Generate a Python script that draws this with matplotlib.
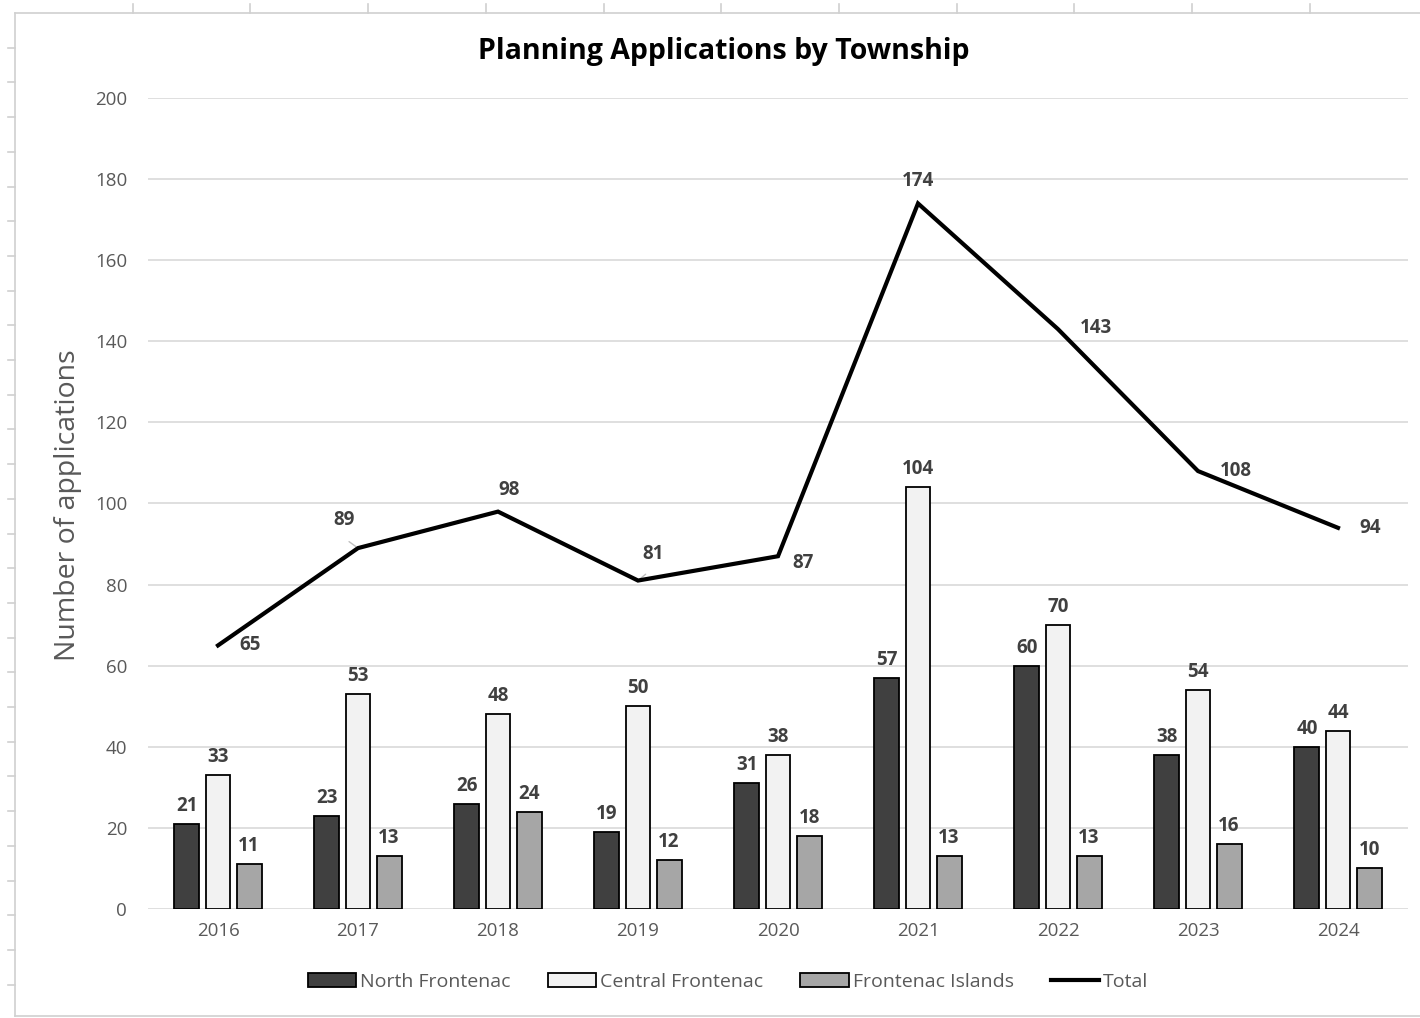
import matplotlib
matplotlib.use("Agg")
import matplotlib.pyplot as plt
import numpy as np
from matplotlib.patches import Patch
from matplotlib.lines import Line2D

years = ["2016", "2017", "2018", "2019", "2020", "2021", "2022", "2023", "2024"]
north = [21, 23, 26, 19, 31, 57, 60, 38, 40]
central = [33, 53, 48, 50, 38, 104, 70, 54, 44]
islands = [11, 13, 24, 12, 18, 13, 13, 16, 10]
total = [65, 89, 98, 81, 87, 174, 143, 108, 94]
series_names = ["North Frontenac", "Central Frontenac", "Frontenac Islands", "Total"]

# label offsets for total line (pixels)
total_offsets = [(32, 0), (-14, 28), (11, 22), (15, 27), (25, -7), (0, 22), (38, 1), (38, 0), (32, 0)]

W, H = 1420, 1018
fig = plt.figure(figsize=(W / 100, H / 100), dpi=100)
fig.patch.set_facecolor("white")

FONT = ["Open Sans", "DejaVu Sans"]
LBL = "#404040"
TICK = "#595959"

ax = fig.add_axes([148 / W, 1 - 909 / H, 1260 / W, 811 / H])
x = np.arange(len(years))
bw = 0.178
off = 0.222
colors = ["#404040", "#f2f2f2", "#a6a6a6"]
for i, (vals, c) in enumerate(zip([north, central, islands], colors)):
    bars = ax.bar(x + (i - 1) * off, vals, width=bw, color=c, edgecolor="black",
                  linewidth=1.3, zorder=3)
    for b, v in zip(bars, vals):
        ax.annotate(str(v), (b.get_x() + b.get_width() / 2, v), xytext=(0, 8),
                    textcoords="offset pixels", ha="center", va="bottom",
                    fontsize=13.5, fontweight="bold", color=LBL, family=FONT, zorder=5)

ax.plot(x, total, color="black", linewidth=3, zorder=4, solid_joinstyle="miter")
for xi, v, (dx, dy) in zip(x, total, total_offsets):
    ax.annotate(str(v), (xi, v), xytext=(dx, dy), textcoords="offset pixels",
                ha="center", va="center", fontsize=13.5, fontweight="bold",
                color=LBL, family=FONT, zorder=5)
# small leader lines
for idx in (1, 3):
    ax.annotate("", (x[idx], total[idx]), xytext=(x[idx] - 0.08 if idx == 1 else x[idx] + 0.07, total[idx] + 2),
                arrowprops=dict(arrowstyle="-", color="#bfbfbf", lw=1), zorder=3)

ax.set_xlim(-0.5, len(years) - 0.5)
ax.set_ylim(0, 200)
ax.set_yticks(np.arange(0, 201, 20))
ax.set_xticks(x)
ax.set_xticklabels(years)
ax.grid(axis="y", color="#d9d9d9", linewidth=1.2, zorder=0)
ax.set_axisbelow(True)
for s in ax.spines.values():
    s.set_visible(False)
ax.tick_params(axis="both", length=0, labelsize=13.5, colors=TICK)
ax.tick_params(axis="y", pad=15)
ax.tick_params(axis="x", pad=9)
for t in ax.get_xticklabels() + ax.get_yticklabels():
    t.set_family(FONT)

fig.text(68 / W, 1 - 505 / H, "Number of applications", rotation=90, ha="center", va="center",
         fontsize=20.5, color=TICK, family=FONT)
fig.text(724 / W, 1 - 52 / H, "Planning Applications by Township", ha="center", va="center",
         fontsize=20.5, fontweight="bold", color="black", family=FONT)

handles = [Patch(facecolor=c, edgecolor="black", linewidth=1.3) for c in colors]
handles.append(Line2D([0], [0], color="black", linewidth=3))
leg = fig.legend(handles, series_names, loc="center", bbox_to_anchor=(728 / W, 1 - 982 / H), ncol=4,
                 frameon=False, prop={"family": FONT, "size": 14},
                 handlelength=2.5, handleheight=0.75, handletextpad=0.2, columnspacing=1.9,
                 labelcolor=TICK)

# outer frame with ruler ticks
frame_c = "#d0d0d0"
fig.add_artist(Line2D([15 / W, 1], [1 - 13 / H, 1 - 13 / H], color=frame_c, lw=1.2, transform=fig.transFigure))
fig.add_artist(Line2D([15 / W, 15 / W], [1 - 13 / H, 1 - 1016 / H], color=frame_c, lw=1.2, transform=fig.transFigure))
fig.add_artist(Line2D([15 / W, 1], [1 - 1016 / H, 1 - 1016 / H], color=frame_c, lw=1.2, transform=fig.transFigure))
for k in range(1, 13):
    px = 15 + 117.7 * k
    if px < W:
        fig.add_artist(Line2D([px / W, px / W], [1 - 4 / H, 1 - 13 / H], color=frame_c, lw=1.2, transform=fig.transFigure))
for k in range(1, 30):
    py = 13 + 34.7 * k
    if py < 1012:
        fig.add_artist(Line2D([8 / W, 15 / W], [1 - py / H, 1 - py / H], color=frame_c, lw=1.2, transform=fig.transFigure))

fig.savefig("out.png", dpi=100, facecolor="white")
